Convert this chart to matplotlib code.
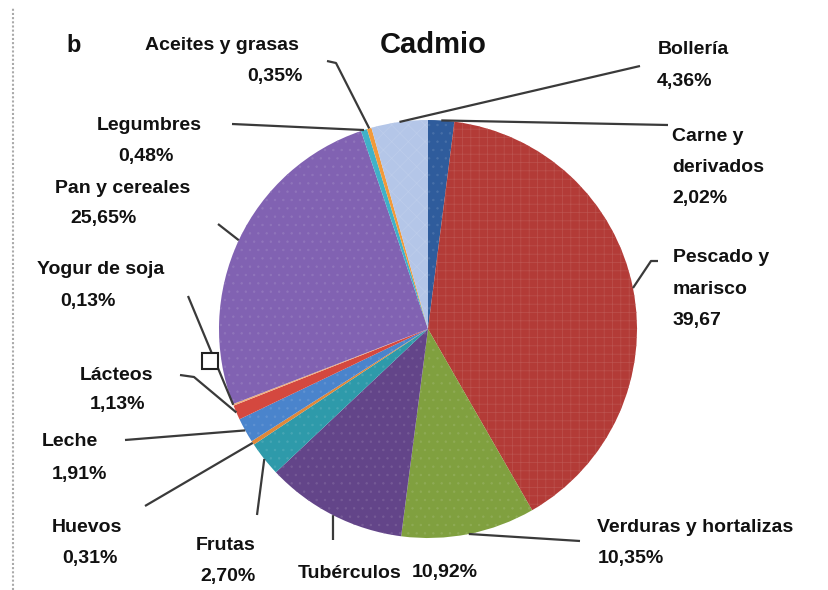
import numpy as np
import matplotlib
matplotlib.use('Agg')
import matplotlib.pyplot as plt
from matplotlib.patches import Rectangle

# data, clockwise from 12 o'clock
foods = ['Carne y derivados', 'Pescado y marisco', 'Verduras y hortalizas',
         'Tubérculos', 'Frutas', 'Huevos', 'Leche', 'Lácteos', 'Yogur de soja',
         'Pan y cereales', 'Legumbres', 'Aceites y grasas', 'Bollería']
shares = [2.02, 39.67, 10.35, 10.92, 2.70, 0.31, 1.91, 1.13, 0.13,
          25.65, 0.48, 0.35, 4.36]
pct_text = ['2,02%', '39,67', '10,35%', '10,92%', '2,70%', '0,31%', '1,91%',
            '1,13%', '0,13%', '25,65%', '0,48%', '0,35%', '4,36%']
name_lines = [['Carne y', 'derivados'], ['Pescado y', 'marisco'],
              ['Verduras y hortalizas'], ['Tubérculos'], ['Frutas'], ['Huevos'],
              ['Leche'], ['Lácteos'], ['Yogur de soja'], ['Pan y cereales'],
              ['Legumbres'], ['Aceites y grasas'], ['Bollería']]

colors = ['#2f5c9c', '#b33b37', '#80a03f', '#634589', '#2e9aaa', '#e0883a',
          '#4a84cc', '#d4483f', '#f0b080', '#8162b2', '#3fb2c8', '#f29a3a',
          '#b4c6e8']
hatches = ['..', '++', '..', '..', '..', '', '..', '', '', '..', '', '', 'xx']

W, H = 829, 590
# layout in pixel coords (y down): leader line points after the wedge edge,
# then text lines as (x_left, y_center)
leaders = [[(668, 125)], [(651, 261), (658, 261)], [(580, 541)], [(333, 540)],
           [(257, 515)], [(145, 506)], [(125, 440)], [(194, 377), (180, 375)],
           [(188, 296)], [(218, 224)], [(232, 124)], [(336, 63), (327, 61)],
           [(640, 66)]]
text_pos = [[(672, 137), (672, 168), (672, 199)],
            [(673, 258), (673, 290), (673, 321)],
            [(597, 528), (598, 558)],
            [(298, 573), (412, 573)],
            [(196, 545), (200, 576)],
            [(52, 527), (62, 558)],
            [(42, 441), (52, 474)],
            [(80, 375), (90, 405)],
            [(37, 270), (60, 302)],
            [(55, 189), (70, 219)],
            [(97, 126), (118, 157)],
            [(145, 45), (247, 76)],
            [(658, 50), (657, 82)]]

cx, cy, r = 428, 329, 209

plt.rcParams['font.family'] = ['Liberation Sans', 'DejaVu Sans']
plt.rcParams['hatch.linewidth'] = 0.5

fig = plt.figure(figsize=(W / 100, H / 100), dpi=100)
ax = fig.add_axes([0, 0, 1, 1])

def py(y):
    return H - y

wedges, _ = ax.pie(shares, colors=colors, startangle=90, counterclock=False,
                   center=(cx, py(cy)), radius=r, frame=True,
                   wedgeprops=dict(linewidth=0))
ax.set_xlim(0, W)
ax.set_ylim(0, H)
ax.set_aspect('equal')
ax.axis('off')
for w, c, h in zip(wedges, colors, hatches):
    if h:
        w.set_hatch(h)
        w.set_edgecolor(matplotlib.colors.to_hex(
            0.88 * np.array(matplotlib.colors.to_rgb(c)) + 0.12))
        w.set_linewidth(0)

for w, pts, tpos, names, pct in zip(wedges, leaders, text_pos, name_lines, pct_text):
    mid = np.deg2rad((w.theta1 + w.theta2) / 2)
    x0 = cx + r * np.cos(mid)
    y0 = py(cy) + r * np.sin(mid)
    xs = [x0] + [p[0] for p in pts]
    ys = [y0] + [py(p[1]) for p in pts]
    ax.plot(xs, ys, color='#3a3a3a', lw=1.6, solid_capstyle='butt', zorder=3)
    for (tx, ty), s in zip(tpos, names + [pct]):
        ax.text(tx, py(ty), s, ha='left', va='center', fontsize=14,
                fontweight='bold', color='#111111')

# small box on the yogur leader
ax.add_patch(Rectangle((202, py(369)), 16, 16, facecolor='white',
                       edgecolor='#222222', lw=1.5, zorder=4))

ax.text(433, py(45), 'Cadmio', ha='center', va='center', fontsize=21,
        fontweight='bold', color='#111111')
ax.text(66, py(45), 'b', ha='left', va='center', fontsize=17,
        fontweight='bold', color='#111111')
ax.plot([13, 13], [0, py(8)], color='#aaaaaa', lw=1.5, ls=(0, (1, 1)))

fig.savefig('out.png', dpi=100)
